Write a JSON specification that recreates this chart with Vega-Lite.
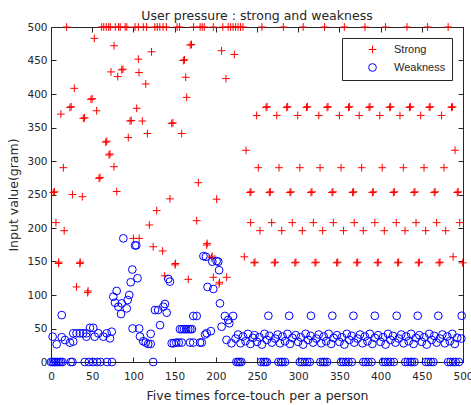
{
"$schema":"https://vega.github.io/schema/vega-lite/v6.json",
"width":412,"height":335,
"autosize":{"type":"none"},
"padding":{"left":51,"top":27,"right":8,"bottom":43},
"background":"white",
"title":{"text":"User pressure : strong and weakness","font":"DejaVu Sans","fontSize":12.5,"fontWeight":"normal","color":"#262626","offset":7,"dy":8},
"config":{"view":{"stroke":null},"axis":{"grid":false,"domainColor":"#262626","tickColor":"#262626","labelColor":"#262626","titleColor":"#262626","labelFont":"DejaVu Sans","labelFontSize":10.5,"titleFont":"DejaVu Sans","titleFontSize":12.5,"titleFontWeight":"normal","labelFlush":false,"labelOverlap":false,"tickSize":-5,"domainWidth":1,"tickWidth":1}},
"data":{"values":[
{"series":"Strong","x":19,"y":500},{"series":"Strong","x":61.5,"y":500},{"series":"Strong","x":64,"y":500},{"series":"Strong","x":67,"y":500},{"series":"Strong","x":70,"y":500},{"series":"Strong","x":72,"y":500},{"series":"Strong","x":78,"y":500},{"series":"Strong","x":82,"y":500},{"series":"Strong","x":84,"y":500},{"series":"Strong","x":90,"y":500},{"series":"Strong","x":92,"y":500},{"series":"Strong","x":102,"y":500},{"series":"Strong","x":106,"y":500},{"series":"Strong","x":112,"y":500},{"series":"Strong","x":116,"y":500},{"series":"Strong","x":126,"y":500},{"series":"Strong","x":129,"y":500},{"series":"Strong","x":132,"y":500},{"series":"Strong","x":136,"y":500},{"series":"Strong","x":140,"y":500},{"series":"Strong","x":153,"y":500},{"series":"Strong","x":156,"y":500},{"series":"Strong","x":173,"y":500},{"series":"Strong","x":181,"y":500},{"series":"Strong","x":183.5,"y":500},{"series":"Strong","x":186,"y":500},{"series":"Strong","x":197,"y":500},{"series":"Strong","x":208.5,"y":500},{"series":"Strong","x":215,"y":500},{"series":"Strong","x":218,"y":500},{"series":"Strong","x":221,"y":500},{"series":"Strong","x":224,"y":500},{"series":"Strong","x":227,"y":500},{"series":"Strong","x":230,"y":500},{"series":"Strong","x":233,"y":500},
{"series":"Strong","x":256,"y":500},{"series":"Strong","x":282,"y":500},{"series":"Strong","x":306,"y":500},{"series":"Strong","x":332,"y":500},{"series":"Strong","x":356,"y":500},{"series":"Strong","x":381,"y":500},{"series":"Strong","x":406,"y":500},{"series":"Strong","x":432,"y":500},{"series":"Strong","x":457,"y":500},{"series":"Strong","x":482,"y":500},
{"series":"Strong","x":52.6,"y":483},{"series":"Strong","x":76.5,"y":472},{"series":"Strong","x":106,"y":452},{"series":"Strong","x":122,"y":463},{"series":"Strong","x":160.6,"y":450},{"series":"Strong","x":162,"y":451},{"series":"Strong","x":169,"y":473},{"series":"Strong","x":170.5,"y":474},{"series":"Strong","x":72.8,"y":433},{"series":"Strong","x":85.8,"y":436},{"series":"Strong","x":87.3,"y":437},{"series":"Strong","x":81,"y":426},{"series":"Strong","x":106.8,"y":432},{"series":"Strong","x":115,"y":415},{"series":"Strong","x":163.5,"y":425},{"series":"Strong","x":212.4,"y":423},{"series":"Strong","x":207,"y":464.6},{"series":"Strong","x":222.5,"y":459},{"series":"Strong","x":28.3,"y":408.5},{"series":"Strong","x":48.5,"y":392},{"series":"Strong","x":50,"y":393},{"series":"Strong","x":23,"y":380},{"series":"Strong","x":24.5,"y":381},{"series":"Strong","x":55.4,"y":375},{"series":"Strong","x":12,"y":370},{"series":"Strong","x":164.7,"y":395},{"series":"Strong","x":104,"y":378.6},{"series":"Strong","x":39.2,"y":363.7},{"series":"Strong","x":40.7,"y":364.5},{"series":"Strong","x":95.9,"y":359.7},{"series":"Strong","x":97.4,"y":360.5},{"series":"Strong","x":110.8,"y":359.7},{"series":"Strong","x":146.5,"y":356},{"series":"Strong","x":148,"y":357},{"series":"Strong","x":158.6,"y":341},{"series":"Strong","x":117,"y":341},{"series":"Strong","x":93.8,"y":335},{"series":"Strong","x":66.4,"y":328},{"series":"Strong","x":67.6,"y":329.5},{"series":"Strong","x":70.4,"y":309},{"series":"Strong","x":71.6,"y":310.5},{"series":"Strong","x":76.5,"y":291.5},{"series":"Strong","x":15,"y":290},{"series":"Strong","x":58.3,"y":274},{"series":"Strong","x":59.5,"y":275.5},{"series":"Strong","x":2.8,"y":253},{"series":"Strong","x":4.3,"y":254},{"series":"Strong","x":26,"y":250},{"series":"Strong","x":38,"y":246.7},{"series":"Strong","x":79.7,"y":254.5},{"series":"Strong","x":144.4,"y":243.5},{"series":"Strong","x":178.8,"y":267.6},{"series":"Strong","x":201,"y":243},{"series":"Strong","x":236.7,"y":316},{"series":"Strong","x":6,"y":208},{"series":"Strong","x":16,"y":196},{"series":"Strong","x":128.3,"y":226},{"series":"Strong","x":119.3,"y":204.5},{"series":"Strong","x":176.8,"y":210.9},{"series":"Strong","x":9,"y":147},{"series":"Strong","x":9.5,"y":149},{"series":"Strong","x":35,"y":147},{"series":"Strong","x":35.5,"y":149},{"series":"Strong","x":31,"y":112},{"series":"Strong","x":44.5,"y":103.5},{"series":"Strong","x":45,"y":106},{"series":"Strong","x":100,"y":184.5},{"series":"Strong","x":107,"y":184.5},{"series":"Strong","x":124,"y":172},{"series":"Strong","x":135.5,"y":165.7},{"series":"Strong","x":150.5,"y":145},{"series":"Strong","x":151,"y":147},{"series":"Strong","x":138,"y":128.7},{"series":"Strong","x":166.6,"y":123.4},{"series":"Strong","x":189,"y":174.6},{"series":"Strong","x":189.5,"y":177},{"series":"Strong","x":195,"y":155.7},{"series":"Strong","x":195.5,"y":158},{"series":"Strong","x":197,"y":126.4},{"series":"Strong","x":213.2,"y":126.4},{"series":"Strong","x":204,"y":116.4},{"series":"Strong","x":204.5,"y":119},{"series":"Strong","x":234.6,"y":157},
{"series":"Strong","x":261,"y":380},{"series":"Strong","x":262.2,"y":381},{"series":"Strong","x":286,"y":380},{"series":"Strong","x":287.2,"y":381},{"series":"Strong","x":310,"y":380},{"series":"Strong","x":311.2,"y":381},{"series":"Strong","x":335,"y":380},{"series":"Strong","x":336.2,"y":381},{"series":"Strong","x":361,"y":380},{"series":"Strong","x":362.2,"y":381},{"series":"Strong","x":386,"y":380},{"series":"Strong","x":387.2,"y":381},{"series":"Strong","x":411,"y":380},{"series":"Strong","x":412.2,"y":381},{"series":"Strong","x":435,"y":380},{"series":"Strong","x":436.2,"y":381},{"series":"Strong","x":459,"y":380},{"series":"Strong","x":460.2,"y":381},{"series":"Strong","x":486,"y":380},{"series":"Strong","x":487.2,"y":381},
{"series":"Strong","x":249.6,"y":368},{"series":"Strong","x":274,"y":368},{"series":"Strong","x":299.4,"y":368},{"series":"Strong","x":325,"y":368},{"series":"Strong","x":350,"y":368},{"series":"Strong","x":374,"y":368},{"series":"Strong","x":399,"y":368},{"series":"Strong","x":423.5,"y":368},{"series":"Strong","x":448.7,"y":368},{"series":"Strong","x":474,"y":368},
{"series":"Strong","x":251.6,"y":290},{"series":"Strong","x":276.7,"y":290},{"series":"Strong","x":302,"y":290},{"series":"Strong","x":326.5,"y":290},{"series":"Strong","x":352,"y":290},{"series":"Strong","x":377,"y":290},{"series":"Strong","x":402,"y":290},{"series":"Strong","x":427.6,"y":290},{"series":"Strong","x":452.7,"y":290},{"series":"Strong","x":477,"y":290},
{"series":"Strong","x":241.5,"y":253},{"series":"Strong","x":242.7,"y":254},{"series":"Strong","x":265,"y":253},{"series":"Strong","x":266.2,"y":254},{"series":"Strong","x":290,"y":253},{"series":"Strong","x":291.2,"y":254},{"series":"Strong","x":315.5,"y":253},{"series":"Strong","x":316.7,"y":254},{"series":"Strong","x":341,"y":253},{"series":"Strong","x":342.2,"y":254},{"series":"Strong","x":366,"y":253},{"series":"Strong","x":367.2,"y":254},{"series":"Strong","x":390,"y":253},{"series":"Strong","x":391.2,"y":254},{"series":"Strong","x":415.5,"y":253},{"series":"Strong","x":416.7,"y":254},{"series":"Strong","x":440.5,"y":253},{"series":"Strong","x":441.7,"y":254},{"series":"Strong","x":465,"y":253},{"series":"Strong","x":466.2,"y":254},{"series":"Strong","x":493,"y":253},{"series":"Strong","x":494.2,"y":254},
{"series":"Strong","x":242.3,"y":208},{"series":"Strong","x":267.8,"y":208},{"series":"Strong","x":292.8,"y":208},{"series":"Strong","x":318.4,"y":208},{"series":"Strong","x":342.6,"y":208},{"series":"Strong","x":368,"y":208},{"series":"Strong","x":393,"y":208},{"series":"Strong","x":419,"y":208},{"series":"Strong","x":443,"y":208},{"series":"Strong","x":468,"y":208},{"series":"Strong","x":496,"y":208},
{"series":"Strong","x":253.6,"y":196},{"series":"Strong","x":280,"y":196},{"series":"Strong","x":305,"y":196},{"series":"Strong","x":329.7,"y":196},{"series":"Strong","x":355,"y":196},{"series":"Strong","x":379,"y":196},{"series":"Strong","x":404.5,"y":196},{"series":"Strong","x":429.6,"y":196},{"series":"Strong","x":454.7,"y":196},{"series":"Strong","x":479,"y":196},
{"series":"Strong","x":246.4,"y":148},{"series":"Strong","x":247.6,"y":149},{"series":"Strong","x":271,"y":148},{"series":"Strong","x":272.2,"y":149},{"series":"Strong","x":296,"y":148},{"series":"Strong","x":297.2,"y":149},{"series":"Strong","x":320.4,"y":148},{"series":"Strong","x":321.6,"y":149},{"series":"Strong","x":346.7,"y":148},{"series":"Strong","x":347.9,"y":149},{"series":"Strong","x":371,"y":148},{"series":"Strong","x":372.2,"y":149},{"series":"Strong","x":396,"y":148},{"series":"Strong","x":397.2,"y":149},{"series":"Strong","x":420.7,"y":148},{"series":"Strong","x":421.9,"y":149},{"series":"Strong","x":445.8,"y":148},{"series":"Strong","x":447,"y":149},{"series":"Strong","x":470.9,"y":148},{"series":"Strong","x":472.1,"y":149},{"series":"Strong","x":499.6,"y":148},
{"series":"Strong","x":490.3,"y":316},{"series":"Strong","x":488,"y":157},
{"series":"Weakness","x":0,"y":0},{"series":"Weakness","x":2,"y":0},{"series":"Weakness","x":4,"y":0},{"series":"Weakness","x":6,"y":0},{"series":"Weakness","x":8,"y":0},{"series":"Weakness","x":10,"y":0},{"series":"Weakness","x":12,"y":0},{"series":"Weakness","x":14,"y":0},{"series":"Weakness","x":24,"y":0},{"series":"Weakness","x":26,"y":0},{"series":"Weakness","x":41,"y":0},{"series":"Weakness","x":46,"y":0},{"series":"Weakness","x":51,"y":0},{"series":"Weakness","x":56,"y":0},{"series":"Weakness","x":60,"y":0},{"series":"Weakness","x":68,"y":0},{"series":"Weakness","x":74,"y":0},{"series":"Weakness","x":124,"y":0},
{"series":"Weakness","x":225,"y":0},{"series":"Weakness","x":227,"y":0},{"series":"Weakness","x":229,"y":0},{"series":"Weakness","x":231,"y":0},
{"series":"Weakness","x":255,"y":0},{"series":"Weakness","x":258,"y":0},{"series":"Weakness","x":260,"y":0},{"series":"Weakness","x":262,"y":0},
{"series":"Weakness","x":276,"y":0},{"series":"Weakness","x":279,"y":0},{"series":"Weakness","x":281,"y":0},{"series":"Weakness","x":284,"y":0},
{"series":"Weakness","x":302,"y":0},{"series":"Weakness","x":305,"y":0},{"series":"Weakness","x":308,"y":0},{"series":"Weakness","x":311,"y":0},{"series":"Weakness","x":314,"y":0},
{"series":"Weakness","x":327,"y":0},{"series":"Weakness","x":330,"y":0},{"series":"Weakness","x":332,"y":0},{"series":"Weakness","x":335,"y":0},
{"series":"Weakness","x":352,"y":0},{"series":"Weakness","x":355,"y":0},{"series":"Weakness","x":358,"y":0},{"series":"Weakness","x":361,"y":0},{"series":"Weakness","x":365,"y":0},
{"series":"Weakness","x":379,"y":0},{"series":"Weakness","x":382,"y":0},{"series":"Weakness","x":385,"y":0},{"series":"Weakness","x":389,"y":0},
{"series":"Weakness","x":403,"y":0},{"series":"Weakness","x":406,"y":0},{"series":"Weakness","x":409,"y":0},{"series":"Weakness","x":412,"y":0},{"series":"Weakness","x":416,"y":0},
{"series":"Weakness","x":430,"y":0},{"series":"Weakness","x":433,"y":0},{"series":"Weakness","x":436,"y":0},{"series":"Weakness","x":438,"y":0},{"series":"Weakness","x":441,"y":0},
{"series":"Weakness","x":455,"y":0},{"series":"Weakness","x":458,"y":0},{"series":"Weakness","x":461,"y":0},{"series":"Weakness","x":464,"y":0},
{"series":"Weakness","x":482,"y":0},{"series":"Weakness","x":485,"y":0},{"series":"Weakness","x":488,"y":0},{"series":"Weakness","x":491,"y":0},{"series":"Weakness","x":495,"y":0},
{"series":"Weakness","x":13,"y":70},{"series":"Weakness","x":2,"y":37.8},{"series":"Weakness","x":6.9,"y":26.4},{"series":"Weakness","x":13,"y":37},{"series":"Weakness","x":17,"y":32.8},{"series":"Weakness","x":23,"y":28.9},{"series":"Weakness","x":27,"y":30.5},{"series":"Weakness","x":27,"y":42.8},{"series":"Weakness","x":31,"y":42.8},{"series":"Weakness","x":35,"y":42.8},{"series":"Weakness","x":39,"y":42.8},{"series":"Weakness","x":43,"y":42.8},{"series":"Weakness","x":43,"y":37.8},{"series":"Weakness","x":53,"y":37.8},{"series":"Weakness","x":47.3,"y":51},{"series":"Weakness","x":51.3,"y":51},{"series":"Weakness","x":57.4,"y":42.8},{"series":"Weakness","x":63.5,"y":37.8},{"series":"Weakness","x":67.6,"y":42.8},{"series":"Weakness","x":73.7,"y":45.2},{"series":"Weakness","x":71.6,"y":35.3},
{"series":"Weakness","x":87.8,"y":184.5},{"series":"Weakness","x":102,"y":174},{"series":"Weakness","x":103.5,"y":174},{"series":"Weakness","x":98.7,"y":138},{"series":"Weakness","x":96.7,"y":119},{"series":"Weakness","x":105,"y":125},{"series":"Weakness","x":79.7,"y":106},{"series":"Weakness","x":75.6,"y":97.5},{"series":"Weakness","x":77.7,"y":88.5},{"series":"Weakness","x":85.8,"y":87.5},{"series":"Weakness","x":91.9,"y":80},{"series":"Weakness","x":95,"y":100},{"series":"Weakness","x":93,"y":92.5},{"series":"Weakness","x":85,"y":71.6},{"series":"Weakness","x":81.7,"y":82.5},{"series":"Weakness","x":99,"y":50},{"series":"Weakness","x":107,"y":50},{"series":"Weakness","x":108,"y":38},{"series":"Weakness","x":112,"y":31},{"series":"Weakness","x":115,"y":29},{"series":"Weakness","x":118,"y":27},{"series":"Weakness","x":121,"y":27},{"series":"Weakness","x":121,"y":42},{"series":"Weakness","x":126.2,"y":77.6},{"series":"Weakness","x":130,"y":77.6},{"series":"Weakness","x":136.3,"y":82.5},{"series":"Weakness","x":138.3,"y":86.6},{"series":"Weakness","x":140.4,"y":73.6},{"series":"Weakness","x":132.3,"y":55},{"series":"Weakness","x":142.4,"y":124},{"series":"Weakness","x":144.4,"y":120},{"series":"Weakness","x":146.5,"y":28},{"series":"Weakness","x":149,"y":28},{"series":"Weakness","x":152,"y":29},{"series":"Weakness","x":155,"y":29},{"series":"Weakness","x":158.6,"y":29},{"series":"Weakness","x":156.5,"y":49},{"series":"Weakness","x":159,"y":49},{"series":"Weakness","x":161.5,"y":49},{"series":"Weakness","x":164,"y":49},{"series":"Weakness","x":166.5,"y":49},{"series":"Weakness","x":169,"y":49},{"series":"Weakness","x":171,"y":49},{"series":"Weakness","x":168.7,"y":29},{"series":"Weakness","x":172.7,"y":29},{"series":"Weakness","x":180.8,"y":29},{"series":"Weakness","x":183,"y":29},{"series":"Weakness","x":187,"y":41},{"series":"Weakness","x":189,"y":43},{"series":"Weakness","x":194,"y":46},{"series":"Weakness","x":213,"y":33},{"series":"Weakness","x":219,"y":28},{"series":"Weakness","x":185,"y":158},{"series":"Weakness","x":188,"y":157},{"series":"Weakness","x":195.8,"y":149.7},{"series":"Weakness","x":201,"y":150.7},{"series":"Weakness","x":203,"y":149.7},{"series":"Weakness","x":204,"y":137},{"series":"Weakness","x":190,"y":112},{"series":"Weakness","x":197,"y":109},{"series":"Weakness","x":205,"y":87.5},{"series":"Weakness","x":172.7,"y":68.7},{"series":"Weakness","x":176.8,"y":68.7},{"series":"Weakness","x":211,"y":68.7},{"series":"Weakness","x":221,"y":68.7},{"series":"Weakness","x":215,"y":62.7},{"series":"Weakness","x":207,"y":52.7},{"series":"Weakness","x":216.4,"y":57.7},
{"series":"Weakness","x":263.8,"y":69},{"series":"Weakness","x":289,"y":69},{"series":"Weakness","x":315.5,"y":69},{"series":"Weakness","x":341.4,"y":69},{"series":"Weakness","x":367,"y":69},{"series":"Weakness","x":393,"y":69},{"series":"Weakness","x":419.5,"y":69},{"series":"Weakness","x":445,"y":69},{"series":"Weakness","x":470,"y":69},{"series":"Weakness","x":498.4,"y":69},
{"series":"Weakness","x":224,"y":35},{"series":"Weakness","x":227,"y":41},{"series":"Weakness","x":230,"y":28},{"series":"Weakness","x":233,"y":38},{"series":"Weakness","x":236,"y":31},{"series":"Weakness","x":239,"y":42},{"series":"Weakness","x":242,"y":27},{"series":"Weakness","x":245,"y":36},
{"series":"Weakness","x":247,"y":40},{"series":"Weakness","x":250,"y":30},{"series":"Weakness","x":253,"y":37},{"series":"Weakness","x":256,"y":26},{"series":"Weakness","x":259,"y":42},{"series":"Weakness","x":262,"y":33},{"series":"Weakness","x":265,"y":39},{"series":"Weakness","x":268,"y":29},
{"series":"Weakness","x":272,"y":35},{"series":"Weakness","x":275,"y":41},{"series":"Weakness","x":278,"y":28},{"series":"Weakness","x":281,"y":38},{"series":"Weakness","x":284,"y":31},{"series":"Weakness","x":287,"y":42},{"series":"Weakness","x":290,"y":27},{"series":"Weakness","x":293,"y":36},
{"series":"Weakness","x":297,"y":40},{"series":"Weakness","x":300,"y":30},{"series":"Weakness","x":303,"y":37},{"series":"Weakness","x":306,"y":26},{"series":"Weakness","x":309,"y":42},{"series":"Weakness","x":312,"y":33},{"series":"Weakness","x":315,"y":39},{"series":"Weakness","x":318,"y":29},
{"series":"Weakness","x":322,"y":35},{"series":"Weakness","x":325,"y":41},{"series":"Weakness","x":328,"y":28},{"series":"Weakness","x":331,"y":38},{"series":"Weakness","x":334,"y":31},{"series":"Weakness","x":337,"y":42},{"series":"Weakness","x":340,"y":27},{"series":"Weakness","x":343,"y":36},
{"series":"Weakness","x":347,"y":40},{"series":"Weakness","x":350,"y":30},{"series":"Weakness","x":353,"y":37},{"series":"Weakness","x":356,"y":26},{"series":"Weakness","x":359,"y":42},{"series":"Weakness","x":362,"y":33},{"series":"Weakness","x":365,"y":39},{"series":"Weakness","x":368,"y":29},
{"series":"Weakness","x":372,"y":35},{"series":"Weakness","x":375,"y":41},{"series":"Weakness","x":378,"y":28},{"series":"Weakness","x":381,"y":38},{"series":"Weakness","x":384,"y":31},{"series":"Weakness","x":387,"y":42},{"series":"Weakness","x":390,"y":27},{"series":"Weakness","x":393,"y":36},
{"series":"Weakness","x":397,"y":40},{"series":"Weakness","x":400,"y":30},{"series":"Weakness","x":403,"y":37},{"series":"Weakness","x":406,"y":26},{"series":"Weakness","x":409,"y":42},{"series":"Weakness","x":412,"y":33},{"series":"Weakness","x":415,"y":39},{"series":"Weakness","x":418,"y":29},
{"series":"Weakness","x":422,"y":35},{"series":"Weakness","x":425,"y":41},{"series":"Weakness","x":428,"y":28},{"series":"Weakness","x":431,"y":38},{"series":"Weakness","x":434,"y":31},{"series":"Weakness","x":437,"y":42},{"series":"Weakness","x":440,"y":27},{"series":"Weakness","x":443,"y":36},
{"series":"Weakness","x":447,"y":40},{"series":"Weakness","x":450,"y":30},{"series":"Weakness","x":453,"y":37},{"series":"Weakness","x":456,"y":26},{"series":"Weakness","x":459,"y":42},{"series":"Weakness","x":462,"y":33},{"series":"Weakness","x":465,"y":39},{"series":"Weakness","x":468,"y":29},
{"series":"Weakness","x":472,"y":35},{"series":"Weakness","x":475,"y":41},{"series":"Weakness","x":478,"y":28},{"series":"Weakness","x":481,"y":38},{"series":"Weakness","x":484,"y":31},{"series":"Weakness","x":487,"y":42},{"series":"Weakness","x":490,"y":27},{"series":"Weakness","x":493,"y":36},{"series":"Weakness","x":498,"y":35}
]},
"layer":[
{"mark":{"type":"point","filled":false,"strokeWidth":1,"opacity":1,"size":60,"clip":false},
"encoding":{
"x":{"field":"x","type":"quantitative","scale":{"domain":[0,500],"nice":false,"zero":false},"axis":{"orient":"bottom","values":[0,50,100,150,200,250,300,350,400,450,500],"labelPadding":14,"title":"Five times force-touch per a person","titlePadding":8}},
"y":{"field":"y","type":"quantitative","scale":{"domain":[0,500],"nice":false},"axis":{"orient":"left","values":[0,50,100,150,200,250,300,350,400,450,500],"labelPadding":9,"title":"Input value(gram)","titlePadding":6}},
"color":{"field":"series","type":"nominal","scale":{"domain":["Strong","Weakness"],"range":["#ff0000","#0000ff"]},"legend":{"title":null,"orient":"none","legendX":291,"legendY":11,"padding":6,"strokeColor":"#262626","fillColor":"white","symbolOffset":19,"labelOffset":16,"labelFont":"Liberation Sans","labelFontSize":11,"labelColor":"#262626","symbolSize":60,"symbolStrokeWidth":1,"rowPadding":5}},
"shape":{"field":"series","type":"nominal","scale":{"domain":["Strong","Weakness"],"range":["M-1,0L1,0M0,-1L0,1","circle"]}}
}},
{"mark":{"type":"point","opacity":0},
"encoding":{
"x":{"field":"x","type":"quantitative","axis":{"orient":"top","values":[0,50,100,150,200,250,300,350,400,450,500],"labels":false,"title":null}},
"y":{"field":"y","type":"quantitative","axis":{"orient":"right","values":[0,50,100,150,200,250,300,350,400,450,500],"labels":false,"title":null}}
}}
],
"resolve":{"axis":{"x":"independent","y":"independent"}}
}
